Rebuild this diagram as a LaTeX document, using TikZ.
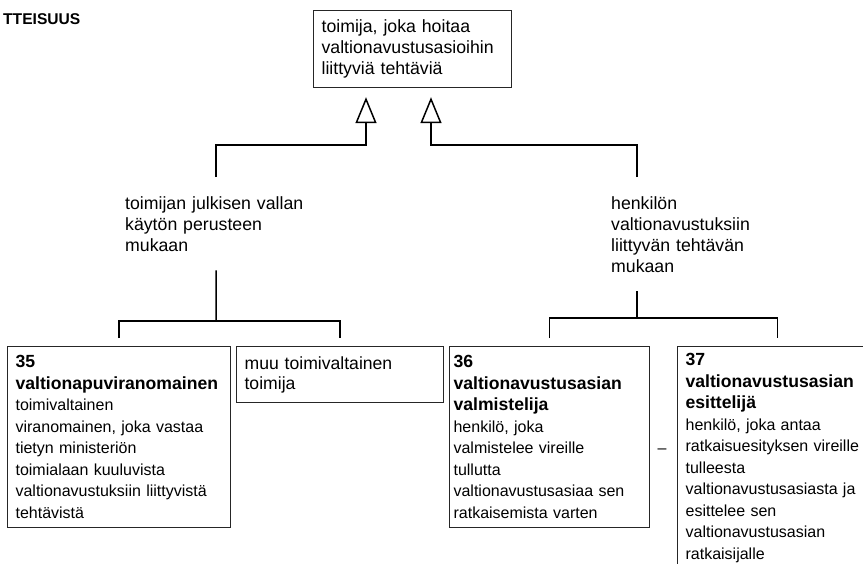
\documentclass[tikz,border=0pt]{standalone}
\usepackage{fontspec}
\setmainfont{Liberation Sans}
\usepackage{tikz}
\usetikzlibrary{arrows.meta,calc,positioning}
\newcommand{\boxhead}{\fontsize{17.6}{21.5}\selectfont\bfseries}
\newcommand{\boxbody}{\fontsize{16}{21.5}\selectfont\mdseries}

\begin{document}
\begin{tikzpicture}[x=1pt,y=-1pt,
	box/.style={draw=black!85, line width=1.2pt, anchor=north west, align=left, inner ysep=7pt, font=\boxbody},
	lbl/.style={anchor=north west, align=left, inner xsep=0pt, inner ysep=19pt, font=\fontsize{17.7}{21}\selectfont},
	conn/.style={line width=1.5pt},
	gen/.style={conn, -{Triangle[open,length=26pt,width=21pt]}, shorten >=9pt}]
%	\draw [help lines] (0,0) grid (863,563);
	\useasboundingbox (0,0) rectangle (863,563);
	\node [anchor=base west, inner sep=0pt, font=\fontsize{15.6}{18}\selectfont\bfseries] (head) at (3,24) {TTEISUUS};
	\node [box, text width=182pt, inner xsep=8pt, minimum height=77pt, font=\fontsize{17.7}{21}\selectfont] (top) at (313,10) {toimija, joka hoitaa\\ valtionavustusasioihin\\ liittyviä tehtäviä};
	\node [lbl, text width=182pt] (lab1) at (125,177) {toimijan julkisen vallan\\ käytön perusteen\\ mukaan};
	\node [lbl, text width=150pt] (lab2) at (611,177) {henkilön\\ valtionavustuksiin\\ liittyvän tehtävän\\ mukaan};
	\node [box, text width=207pt, inner xsep=8pt, minimum height=181pt] (b35) at (7,346) {\boxhead 35\\ valtionapuviranomainen\\ \boxbody toimivaltainen\\ viranomainen, joka vastaa\\ tietyn ministeriön\\ toimialaan kuuluvista\\ valtionavustuksiin liittyvistä\\ tehtävistä};
	\node [box, text width=191pt, inner xsep=8pt, minimum height=56pt, font=\fontsize{17.6}{20}\selectfont] (muu) at (236,346) {muu toimivaltainen\\ toimija};
	\node [box, text width=192pt, inner xsep=4pt, minimum height=181pt] (b36) at (449,346) {\boxhead 36\\ valtionavustusasian\\ valmistelija\\ \boxbody henkilö, joka\\ valmistelee vireille\\ tullutta\\ valtionavustusasiaa sen\\ ratkaisemista varten};
	\node [box, text width=184pt, inner xsep=8pt] (b37) at (677,346) {\boxhead 37\\ valtionavustusasian\\ esittelijä\\ \boxbody henkilö, joka antaa\\ ratkaisuesityksen vireille\\ tulleesta\\ valtionavustusasiasta ja\\ esittelee sen\\ valtionavustusasian\\ ratkaisijalle};
	\node [font=\boxbody, inner sep=0pt] (dash) at (662,451) {–};
	% yleistykset ylös
	\coordinate (up1) at (366,145);
	\coordinate (up2) at (431,145);
	\draw [gen] (lab1.north) |- (up1) -- (up1 |- top.south);
	\draw [gen] ($(lab2.north west)+(26,0)$) |- (up2) -- (up2 |- top.south);
	% haarat alas
	\coordinate (fork1) at (216,321);
	\coordinate (fork2) at (637,318);
	\draw [conn] (lab1.south) -- (fork1);
	\draw [conn] ([yshift=8pt]b35.north) |- (fork1) -| ([yshift=8pt]muu.north);
	\draw [conn] ($(lab2.south west)+(26,0)$) -- (fork2);
	\draw [conn] ([yshift=8pt]b36.north) |- (fork2) -| ([yshift=8pt]b37.north);
\end{tikzpicture}
\end{document}
